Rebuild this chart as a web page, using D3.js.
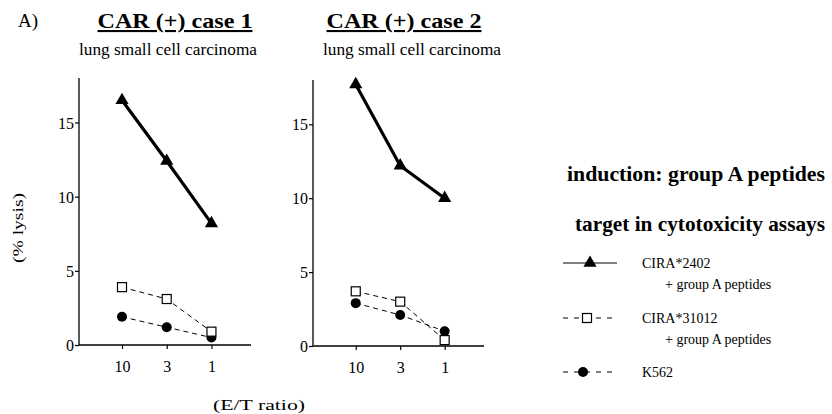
<!DOCTYPE html>
<html>
<head>
<meta charset="utf-8">
<script src="https://cdn.jsdelivr.net/npm/d3@7"></script>
<style>
  body { margin: 0; background: #fff; }
  text { font-family: "Liberation Serif", "DejaVu Serif", serif; fill: #000; }
</style>
</head>
<body>
<svg width="832" height="414"></svg>
<script>
// E/T ratio categories
const ratios = ["10", "3", "1"];
const yTicks = [0, 5, 10, 15];

// case 1
const case1Cira2402 = [16.5, 12.4, 8.2];
const case1Cira31012 = [3.9, 3.1, 0.9];
const case1K562 = [1.9, 1.2, 0.5];

// case 2
const case2Cira2402 = [17.7, 12.2, 10.0];
const case2Cira31012 = [3.7, 3.0, 0.4];
const case2K562 = [2.9, 2.1, 1.0];

const panelTitles = ["CAR (+) case 1", "CAR (+) case 2"];
const panelSubtitles = ["lung small cell carcinoma", "lung small cell carcinoma"];
const legendLabels = [["CIRA*2402", "+ group A peptides"], ["CIRA*31012", "+ group A peptides"], ["K562"]];

var svg = d3.select("svg");

var panels = [
  { left: 79, right: 251, top: 78, bottom: 345, title: panelTitles[0], sub: panelSubtitles[0], titleX: 175, subX: 168,
    series: [case1Cira2402, case1Cira31012, case1K562] },
  { left: 313, right: 484, top: 80, bottom: 346, title: panelTitles[1], sub: panelSubtitles[1], titleX: 404, subX: 412,
    series: [case2Cira2402, case2Cira31012, case2K562] }
];

// symbol makers
function drawMarker(g, kind, x, y) {
  if (kind === 0) {
    g.append("path")
      .attr("d", d3.symbol().type(d3.symbolTriangle).size(75)())
      .attr("transform", "translate(" + x + "," + y + ")")
      .attr("fill", "#000");
  } else if (kind === 1) {
    g.append("rect")
      .attr("x", x - 4.5).attr("y", y - 4.5)
      .attr("width", 9).attr("height", 9)
      .attr("fill", "#fff").attr("stroke", "#000").attr("stroke-width", 1.2);
  } else {
    g.append("circle")
      .attr("cx", x).attr("cy", y).attr("r", 5)
      .attr("fill", "#000");
  }
}

panels.forEach(function (p) {
  var xr = p.right - p.left;
  // ticks like the reference: 10 at ~25% of the axis, 1 at ~77%
  var x = d3.scalePoint().domain(ratios).range([p.left + xr * 0.25, p.left + xr * 0.77]);
  var y = d3.scaleLinear().domain([0, 18]).range([p.bottom, p.top]);

  var g = svg.append("g");

  // y axis
  var yAxis = d3.axisLeft(y).tickValues(yTicks).tickSize(4).tickFormat(d3.format("d"));
  var ya = g.append("g").attr("transform", "translate(" + p.left + ",0)").call(yAxis);
  ya.select(".domain").attr("d", "M0," + p.top + "V" + p.bottom).attr("stroke-width", 1.3);
  ya.selectAll("text").style("font-size", "16px").attr("x", -5).attr("dy", "0.35em");
  ya.selectAll(".tick line").attr("stroke-width", 1.2);

  // x axis
  var xAxis = d3.axisBottom(x).tickSize(4).tickPadding(12);
  var xa = g.append("g").attr("transform", "translate(0," + p.bottom + ")").call(xAxis);
  xa.select(".domain").attr("d", "M" + p.left + ",0H" + p.right).attr("stroke-width", 1.3);
  xa.selectAll("text").style("font-size", "16px");
  xa.selectAll(".tick line").attr("stroke-width", 1.2);

  var line = d3.line().x(function (d, i) { return x(ratios[i]); }).y(function (d) { return y(d); });

  p.series.forEach(function (s, k) {
    g.append("path")
      .attr("d", line(s))
      .attr("fill", "none")
      .attr("stroke", "#000")
      .attr("stroke-width", k === 0 ? 3.2 : 1)
      .attr("stroke-dasharray", k === 0 ? null : "5,4");
  });
  // markers on top
  [2, 1, 0].forEach(function (k) {
    p.series[k].forEach(function (v, i) {
      drawMarker(g, k, x(ratios[i]), y(v));
    });
  });

  // titles
  g.append("text")
    .attr("x", p.titleX).attr("y", 28)
    .attr("text-anchor", "middle")
    .attr("textLength", 155).attr("lengthAdjust", "spacingAndGlyphs")
    .style("font-size", "21px").style("font-weight", "bold")
    .style("text-decoration", "underline")
    .text(p.title);
  g.append("text")
    .attr("x", p.subX).attr("y", 55)
    .attr("text-anchor", "middle")
    .attr("textLength", 178).attr("lengthAdjust", "spacingAndGlyphs")
    .style("font-size", "16px")
    .text(p.sub);
});

svg.append("text").attr("x", 18).attr("y", 27).style("font-size", "19px").text("A)");

svg.append("text")
  .attr("transform", "translate(23,228) rotate(-90)")
  .attr("text-anchor", "middle")
  .attr("textLength", 70).attr("lengthAdjust", "spacingAndGlyphs")
  .style("font-size", "15px")
  .text("(% lysis)");

svg.append("text")
  .attr("x", 259).attr("y", 410)
  .attr("text-anchor", "middle")
  .attr("textLength", 92).attr("lengthAdjust", "spacingAndGlyphs")
  .style("font-size", "15px")
  .text("(E/T ratio)");

svg.append("text")
  .attr("x", 825).attr("y", 181)
  .attr("text-anchor", "end")
  .attr("textLength", 258).attr("lengthAdjust", "spacingAndGlyphs")
  .style("font-size", "21px").style("font-weight", "bold")
  .text("induction: group A peptides");
svg.append("text")
  .attr("x", 825).attr("y", 231)
  .attr("text-anchor", "end")
  .attr("textLength", 250).attr("lengthAdjust", "spacingAndGlyphs")
  .style("font-size", "21px").style("font-weight", "bold")
  .text("target in cytotoxicity assays");

// legend
var legendY = [263, 318, 372];
var legendMarkX = [590, 587, 583];
var lg = svg.append("g");
legendLabels.forEach(function (lab, k) {
  var ly = legendY[k];
  lg.append("line")
    .attr("x1", 563).attr("x2", 617).attr("y1", ly).attr("y2", ly)
    .attr("stroke", "#000").attr("stroke-width", 1)
    .attr("stroke-dasharray", k === 0 ? null : "5,6");
  drawMarker(lg, k, legendMarkX[k], ly);
  lg.append("text")
    .attr("x", 642).attr("y", ly + 5)
    .style("font-size", "14px")
    .text(lab[0]);
  if (lab[1]) {
    lg.append("text")
      .attr("x", 665).attr("y", ly + 26)
      .style("font-size", "14px")
      .text(lab[1]);
  }
});
</script>
</body>
</html>
